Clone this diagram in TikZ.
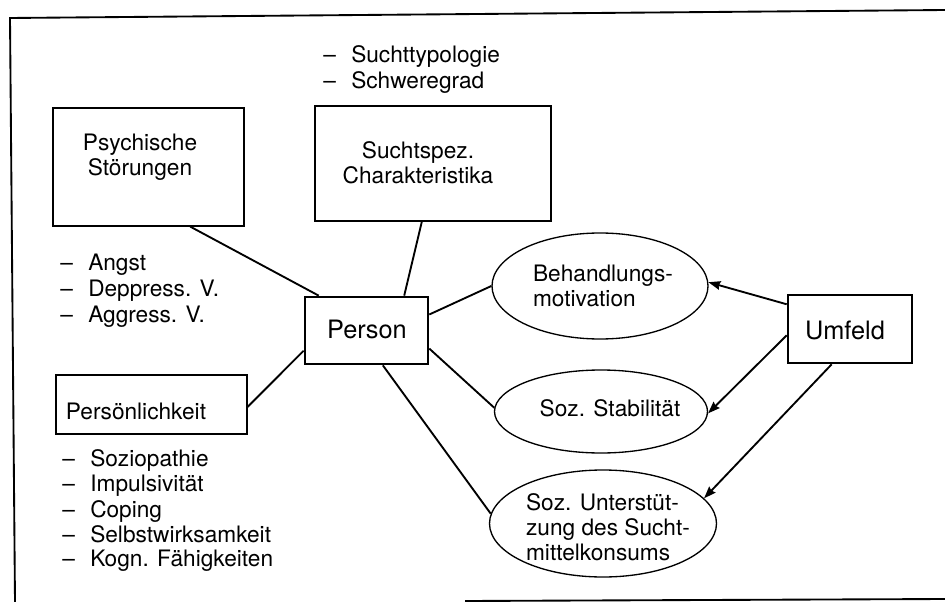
\documentclass[tikz,border=0pt]{standalone}
\usepackage{fontspec}
\setmainfont{TeX Gyre Heros}
\usetikzlibrary{shapes.geometric,arrows.meta,calc}
\newcommand\lstdash{\makebox[21pt][l]{–}}
\begin{document}
\begin{tikzpicture}[x=0.75pt,y=-0.75pt,
  box/.style={draw,line width=0.9pt,inner sep=0pt},
  boldbox/.style={draw,line width=2pt,inner sep=0pt},
  oval/.style={draw,ellipse,line width=1pt,inner sep=0pt},
  txt/.style={inner sep=0pt,font=\fontsize{17}{18.75}\selectfont},
  bigtxt/.style={inner sep=0pt,font=\fontsize{19}{22}\selectfont},
  listitem/.style={txt,anchor=base west},
  link/.style={line width=1.4pt},
  arr/.style={line width=1.4pt,-{Stealth[length=9pt,width=6.5pt,inset=1pt]}},
  framelines/.style={line width=1.4pt}
]
\useasboundingbox (0,0) rectangle (945,602);

% frame
\coordinate (f1) at (10,18);
\coordinate (f2) at (945,10);
\coordinate (f3) at (15,602);
\coordinate (f4) at (465,601);
\coordinate (f5) at (945,599);
\draw[framelines] (f2) -- (f1) -- (f3);
\draw[framelines] (f4) -- (f5);

% boxes
\node[box,minimum width=143.25pt,minimum height=88.5pt] (ps) at (148.5,167) {};
\node[txt,align=center] (pst) at (140,157) {Psychische\\Störungen};
\node[box,minimum width=177pt,minimum height=86.25pt] (sc) at (433,163.5) {};
\node[txt,align=center] (sct) at (418,162.5) {Suchtspez.\\Charakteristika};
\node[boldbox,minimum width=92.25pt,minimum height=50.25pt] (pe) at (366.5,330.5) {};
\node[bigtxt] (pet) at (367,329) {Person};
\node[box,minimum width=143.25pt,minimum height=44.25pt] (pk) at (151.5,404.5) {};
\node[txt] (pkt) at (136,411) {Persönlichkeit};
\node[boldbox,minimum width=93pt,minimum height=51pt] (um) at (850,329) {};
\node[bigtxt] (umt) at (845,330) {Umfeld};

% ellipses
\node[oval,minimum width=162pt,minimum height=79.5pt] (B) at (600,286) {};
\node[txt,align=left] (Bt) at (603,285.5) {Behandlungs-\\motivation};
\node[oval,minimum width=159.75pt,minimum height=62.25pt] (S) at (601,411.5) {};
\node[txt] (St) at (610,408) {Soz. Stabilität};
\node[oval,minimum width=170.25pt,minimum height=80.25pt] (U) at (603,523.5) {};
\node[txt,align=left] (Ut) at (608,527.5) {Soz. Unterstüt-\\zung des Sucht-\\mittelkonsums};

% lists
\node[listitem] (i1) at (323,63) {\lstdash Suchttypologie};
\node[listitem] (i2) at (323,89) {\lstdash Schweregrad};
\node[listitem] (a1) at (60,270) {\lstdash Angst};
\node[listitem] (a2) at (60,296) {\lstdash Deppress. V.};
\node[listitem] (a3) at (60,322) {\lstdash Aggress. V.};
\node[listitem] (p1) at (62,466) {\lstdash Soziopathie};
\node[listitem] (p2) at (62,491) {\lstdash Impulsivität};
\node[listitem] (p3) at (62,517) {\lstdash Coping};
\node[listitem] (p4) at (62,542) {\lstdash Selbstwirksamkeit};
\node[listitem] (p5) at (62,566) {\lstdash Kogn. Fähigkeiten};

% connectors
\draw[link] ($(ps.south west)!0.717!(ps.south east)$) -- ($(pe.north west)!0.12!(pe.north east)$);
\draw[link] ($(sc.south west)!0.453!(sc.south east)$) -- ($(pe.north west)!0.80!(pe.north east)$);
\draw[link] ($(pk.north east)!0.54!(pk.south east)$) -- ($(pe.north west)!0.79!(pe.south west)$);
\draw[link] ($(pe.north east)!0.27!(pe.south east)$) -- (B.180);
\draw[link] ($(pe.north east)!0.76!(pe.south east)$) -- (S.178);
\draw[link] ($(pe.south west)!0.63!(pe.south east)$) -- (U.175);

% arrows
\draw[arr] ($(um.north west)!0.15!(um.south west)$) -- (B.2);
\draw[arr] ($(um.north west)!0.59!(um.south west)$) -- (S.-1);
\draw[arr] ($(um.south west)!0.355!(um.south east)$) -- (U.14);
\end{tikzpicture}
\end{document}
